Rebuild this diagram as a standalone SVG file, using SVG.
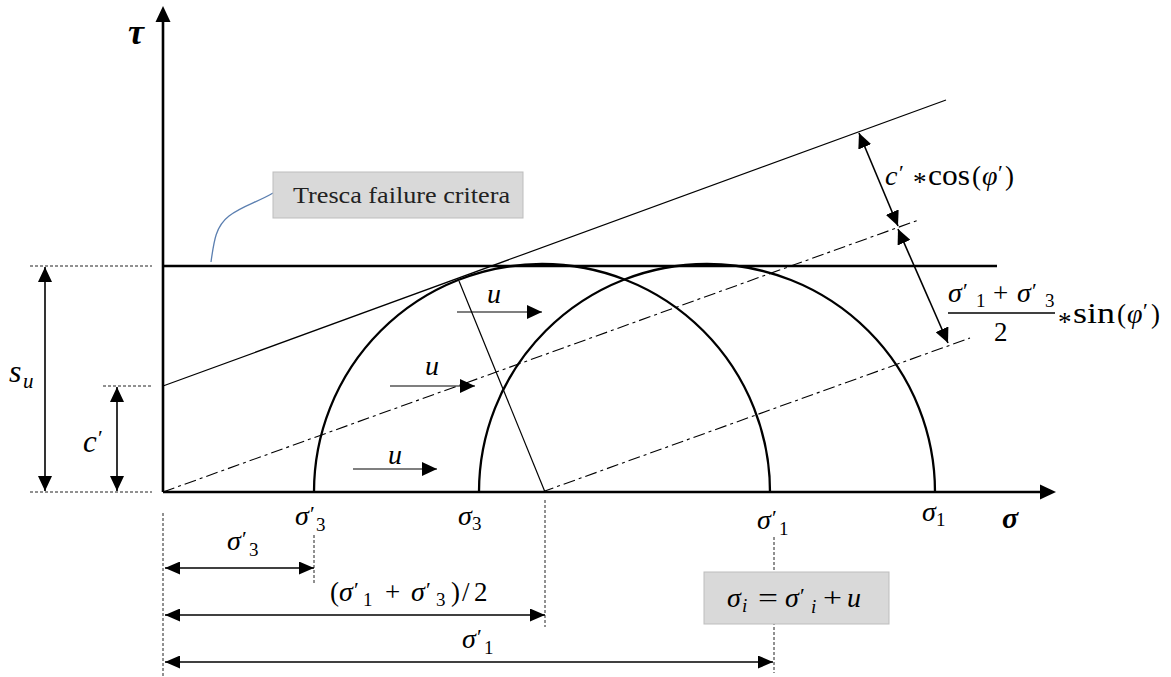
<svg xmlns="http://www.w3.org/2000/svg" width="1171" height="677" viewBox="0 0 1171 677">
<style>
.bg{fill:#fff}
.ax{stroke:#000;stroke-width:2.6;fill:none}
.thick{stroke:#000;stroke-width:2.3;fill:none}
.thin{stroke:#000;stroke-width:1.2;fill:none}
.dd{stroke:#000;stroke-width:1.1;fill:none;stroke-dasharray:12 4 3 4}
.dash{stroke:#222;stroke-width:1;fill:none;stroke-dasharray:3 2}
.dim{stroke:#000;stroke-width:1.6;fill:none}
.box{fill:#d9d9d9;stroke:#bdbdbd;stroke-width:1}
.m{font-family:"Liberation Serif","DejaVu Serif",serif;font-style:italic;font-size:28px;fill:#000}
.r{font-family:"Liberation Serif","DejaVu Serif",serif;font-size:27px;fill:#000}
.s{font-size:19px}
.p{font-family:"Liberation Serif","DejaVu Serif",serif;font-size:22px;fill:#000}
.b{font-family:"Liberation Serif","DejaVu Serif",serif;font-style:italic;font-weight:bold;fill:#000}
</style>
<defs>
<marker id="ah" viewBox="0 0 15 13" refX="15" refY="6.5" markerWidth="15" markerHeight="13" markerUnits="userSpaceOnUse" orient="auto-start-reverse"><path d="M0,0 L15,6.5 L0,13 Z" fill="#000"/></marker>
<marker id="ahu" viewBox="0 0 15 14" refX="15" refY="7" markerWidth="15" markerHeight="14" markerUnits="userSpaceOnUse" orient="auto-start-reverse"><path d="M0,0 L15,7 L0,14 Z" fill="#000"/></marker>
</defs>
<rect class="bg" x="0" y="0" width="1171" height="677"/>

<g id="axes">
<line class="ax" x1="163" y1="492" x2="163" y2="22"/>
<polygon points="155.5,22 170.5,22 163,6" fill="#000"/>
<line class="ax" x1="163" y1="492" x2="1040" y2="492"/>
<polygon points="1040,484.5 1040,499.5 1056,492" fill="#000"/>
<text class="b" x="128" y="44" style="font-size:36px">τ</text>
<text class="b" x="1002" y="528" style="font-size:30px">σ</text>
</g>

<g id="connectors">
<line class="thick" x1="163" y1="266" x2="997" y2="266"/>
<line class="thin" x1="163" y1="386" x2="946" y2="100"/>
<line class="dd" x1="163" y1="492" x2="920" y2="219.5"/>
<line class="dd" x1="542" y1="492" x2="970" y2="338"/>
<line class="thin" x1="459" y1="281" x2="545" y2="492"/>
<line class="dash" x1="30" y1="266" x2="152" y2="266"/>
<line class="dash" x1="30" y1="492" x2="152" y2="492"/>
<line class="dash" x1="103" y1="386" x2="152" y2="386"/>
<line class="dash" x1="163" y1="513" x2="163" y2="677"/>
<line class="dash" x1="314" y1="535" x2="314" y2="584"/>
<line class="dash" x1="545" y1="500" x2="545" y2="627"/>
<line class="dash" x1="774" y1="537" x2="774" y2="673"/>
<line class="dim" x1="45" y1="267" x2="45" y2="491" marker-start="url(#ahu)" marker-end="url(#ahu)"/>
<line class="dim" x1="117" y1="387" x2="117" y2="491" marker-start="url(#ahu)" marker-end="url(#ahu)"/>
<line class="dim" x1="859" y1="133" x2="898" y2="226" marker-start="url(#ahu)" marker-end="url(#ahu)"/>
<line class="dim" x1="898" y1="229" x2="948" y2="343" marker-start="url(#ahu)" marker-end="url(#ahu)"/>
<line class="dim" x1="165" y1="568" x2="314" y2="568" marker-start="url(#ah)" marker-end="url(#ah)"/>
<line class="dim" x1="165" y1="615" x2="545" y2="615" marker-start="url(#ah)" marker-end="url(#ah)"/>
<line class="dim" x1="165" y1="662" x2="773" y2="662" marker-start="url(#ah)" marker-end="url(#ah)"/>
<line class="thin" x1="457" y1="312" x2="542" y2="312" marker-end="url(#ahu)"/>
<line class="thin" x1="390" y1="386" x2="475" y2="386" marker-end="url(#ahu)"/>
<line class="thin" x1="353" y1="469" x2="437" y2="469" marker-end="url(#ahu)"/>
<path d="M211,262 C214,240 216,226 229,216 C242,206 258,202 273,193" fill="none" stroke="#5b7fb0" stroke-width="1.3"/>
</g>

<g id="circle-effective">
<path class="thick" d="M314,492 A228,228 0 0 1 770,492"/>
</g>
<g id="circle-total">
<path class="thick" d="M479,492 A228,228 0 0 1 935,492"/>
</g>

<g id="tresca-label">
<rect class="box" x="273" y="172" width="250" height="46"/>
<text class="r" x="293" y="203" textLength="217" lengthAdjust="spacingAndGlyphs" style="font-size:24px;fill:#222">Tresca failure critera</text>
</g>

<g id="su-label">
<text class="m" x="9" y="382" style="font-size:32px">s</text>
<text class="m" x="23" y="388" style="font-size:21px">u</text>
</g>
<g id="c-label">
<text class="m" x="83" y="452" style="font-size:31px">c</text>
<text class="p" x="98" y="445">′</text>
</g>

<g id="u-labels">
<text class="m" x="487" y="303">u</text>
<text class="m" x="425" y="375">u</text>
<text class="m" x="388" y="464">u</text>
</g>

<g id="axis-ticks-labels">
<text class="m" x="295" y="525">σ</text><text class="p" x="310" y="521">′</text><text class="r s" x="316" y="531">3</text>
<text class="m" x="458" y="525">σ</text><text class="r s" x="472" y="530">3</text>
<text class="m" x="757" y="529">σ</text><text class="p" x="772" y="525">′</text><text class="r s" x="779" y="535">1</text>
<text class="m" x="922" y="521">σ</text><text class="r s" x="936" y="526">1</text>
</g>

<g id="dim-labels">
<text class="m" x="227" y="550">σ</text><text class="p" x="242" y="546">′</text><text class="r s" x="249" y="556">3</text>
<text class="r" x="330" y="601">(</text>
<text class="m" x="339" y="601">σ</text><text class="p" x="354" y="597">′</text><text class="r s" x="363" y="606">1</text>
<text class="r" x="385" y="601">+</text>
<text class="m" x="411" y="601">σ</text><text class="p" x="426" y="597">′</text><text class="r s" x="436" y="606">3</text>
<text class="r" x="451" y="601">)</text>
<text class="r" x="462" y="601">/</text>
<text class="r" x="474" y="601">2</text>
<text class="m" x="462" y="648">σ</text><text class="p" x="477" y="644">′</text><text class="r s" x="484" y="654">1</text>
</g>

<g id="cos-label">
<text class="m" x="885" y="185">c</text><text class="p" x="899" y="180">′</text>
<text class="r" x="913" y="191">*</text>
<text class="r" x="928" y="185" textLength="42" lengthAdjust="spacingAndGlyphs" style="font-size:29px">cos</text>
<text class="r" x="972" y="185">(</text>
<text class="m" x="982" y="185">φ</text><text class="p" x="998" y="180">′</text>
<text class="r" x="1005" y="185">)</text>
</g>

<g id="sin-label">
<text class="m" x="948" y="302">σ</text><text class="p" x="963" y="298">′</text><text class="r s" x="976" y="307">1</text>
<text class="r" x="993" y="302">+</text>
<text class="m" x="1017" y="302">σ</text><text class="p" x="1032" y="298">′</text><text class="r s" x="1045" y="307">3</text>
<line x1="948" y1="313" x2="1055" y2="313" stroke="#000" stroke-width="1.3"/>
<text class="r" x="994" y="341">2</text>
<text class="r" x="1058" y="331">*</text>
<text class="r" x="1073" y="323" textLength="42" lengthAdjust="spacingAndGlyphs" style="font-size:29px">sin</text>
<text class="r" x="1117" y="323">(</text>
<text class="m" x="1127" y="323">φ</text><text class="p" x="1143" y="318">′</text>
<text class="r" x="1151" y="323">)</text>
</g>

<g id="relation-label">
<rect class="box" x="704" y="572" width="185" height="52"/>
<text class="m" x="727" y="607">σ</text><text class="m s" x="742" y="612">i</text>
<text class="r" x="758" y="607" textLength="20" lengthAdjust="spacingAndGlyphs">=</text>
<text class="m" x="785" y="607">σ</text><text class="p" x="800" y="603">′</text><text class="m s" x="811" y="613">i</text>
<text class="r" x="823" y="607" textLength="19" lengthAdjust="spacingAndGlyphs">+</text>
<text class="m" x="847" y="607">u</text>
</g>
</svg>
